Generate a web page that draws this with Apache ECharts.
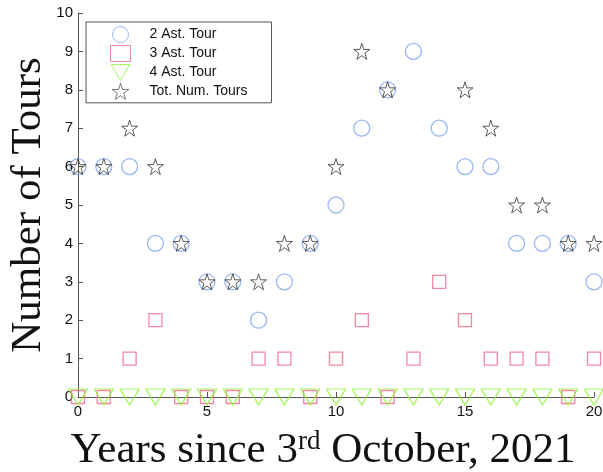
<!DOCTYPE html>
<html>
<head>
<meta charset="utf-8">
<script src="https://cdn.jsdelivr.net/npm/echarts@6/dist/echarts.min.js"></script>
<style>
  html, body { margin: 0; padding: 0; background: #fff; }
  #chart { width: 603px; height: 472px; }
</style>
</head>
<body>
<div id="chart"></div>
<script type="text/javascript">

var years = [0,1,2,3,4,5,6,7,8,9,10,11,12,13,14,15,16,17,18,19,20];
var tour2 = [6,6,6,4,4,3,3,2,3,4,5,7,8,9,7,6,6,4,4,4,3];
var tour3 = [0,0,1,2,0,0,0,1,1,0,1,2,0,1,3,2,1,1,1,0,1];
var tour4 = [0,0,0,0,0,0,0,0,0,0,0,0,0,0,0,0,0,0,0,0,0];
// 13 and 14 not visible in the picture
var totTours = [6,6,7,6,4,3,3,3,4,4,6,9,8,null,null,8,7,5,5,4,4];
var yTicks = [0,1,2,3,4,5,6,7,8,9,10];

var starPath = 'path://M50,2 L61,36 L97,36 L68,57 L79,92 L50,71 L21,92 L32,57 L3,36 L39,36 Z';
var downTri = 'path://M0,0 L100,0 L50,86 Z';

function pairs(vals){
    var out = [];
    for (var i = 0; i < years.length; i++){
        out.push([years[i], vals[i]]);
    }
    return out;
}

var myChart = echarts.init(document.getElementById('chart'));
var axisColor = '#555';
option = {
    animation: false,
    grid: { left: 78, right: 9, top: 13, bottom: 75, containLabel: false, outerBoundsMode: 'none' },
    legend: {
        orient: 'vertical',
        left: 86, top: 22,
        width: 184,
        padding: [4, 24, 3, 24],
        itemGap: 2,
        itemWidth: 20, itemHeight: 16,
        borderColor: '#555', borderWidth: 1,
        backgroundColor: '#fff',
        textStyle: { fontFamily: 'Liberation Sans', fontSize: 14, color: '#111', padding: [0, 0, 0, 14] },
        data: [
            { name: '2 Ast. Tour', icon: 'circle', itemStyle: { borderWidth: 1 } },
            { name: '3 Ast. Tour', icon: 'rect', itemStyle: { borderWidth: 1 } },
            { name: '4 Ast. Tour', icon: downTri, itemStyle: { borderWidth: 1 } },
            { name: 'Tot. Num. Tours', icon: starPath, itemStyle: { borderWidth: 0.8 } }
        ]
    },
    xAxis: {
        type: 'value', min: 0, max: 20, interval: 5,
        name: '{a|Years since 3}{s|rd}{a| October, 2021}',
        nameLocation: 'middle', nameGap: 31,
        nameTextStyle: {
            padding: [0, 26, 0, 0],
            rich: {
                a: { fontFamily: 'Liberation Serif', fontSize: 43, color: '#111', verticalAlign: 'bottom' },
                s: { fontFamily: 'Liberation Serif', fontSize: 27, color: '#111', verticalAlign: 'top', padding: [0, 0, 17, 0] }
            }
        },
        axisLine: { onZero: false, lineStyle: { color: axisColor } },
        axisTick: { inside: true, length: 5, lineStyle: { color: axisColor } },
        axisLabel: { fontFamily: 'Liberation Sans', fontSize: 15, color: '#111', margin: 7 },
        splitLine: { show: false }
    },
    yAxis: {
        type: 'value', min: 0, max: 10, interval: 1,
        name: 'Number of Tours',
        nameLocation: 'middle', nameGap: 28, nameMoveOverlap: false,
        nameTextStyle: { fontFamily: 'Liberation Serif', fontSize: 43, color: '#111' },
        axisLine: { show: true, lineStyle: { color: axisColor } },
        axisTick: { show: true, inside: true, length: 5, lineStyle: { color: axisColor } },
        axisLabel: {
            fontFamily: 'Liberation Sans', fontSize: 15, color: '#111', margin: 5,
            formatter: function(v){ return yTicks.indexOf(v) >= 0 ? String(v) : ''; }
        },
        splitLine: { show: false }
    },
    series: [
        {
            name: '2 Ast. Tour', type: 'scatter', symbol: 'circle', symbolSize: 16,
            itemStyle: { color: 'rgba(255,255,255,0)', borderColor: '#7fa6f0', borderWidth: 1.3 },
            data: pairs(tour2)
        },
        {
            name: '3 Ast. Tour', type: 'scatter', symbol: 'rect', symbolSize: 13,
            itemStyle: { color: 'rgba(255,255,255,0)', borderColor: '#ee6a88', borderWidth: 1.3 },
            data: pairs(tour3)
        },
        {
            name: '4 Ast. Tour', type: 'scatter', symbol: downTri, symbolSize: [19, 16], symbolKeepAspect: false,
            itemStyle: { color: 'rgba(255,255,255,0)', borderColor: '#8ef23a', borderWidth: 1.3 },
            data: pairs(tour4)
        },
        {
            name: 'Tot. Num. Tours', type: 'scatter', symbol: starPath, symbolSize: 16,
            itemStyle: { color: 'rgba(255,255,255,0)', borderColor: '#333', borderWidth: 1 },
            data: pairs(totTours)
        }
    ]
};
myChart.setOption(option);

</script>
</body>
</html>
